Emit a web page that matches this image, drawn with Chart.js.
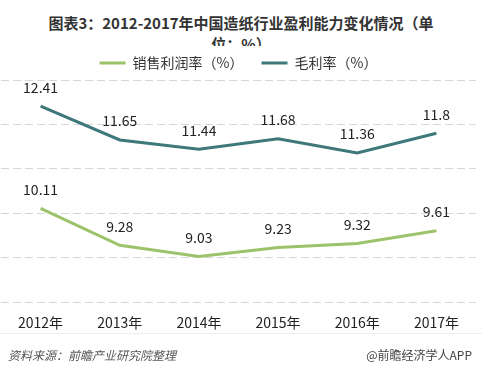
<!DOCTYPE html>
<html>
<head>
<meta charset="utf-8">
<script src="https://cdn.jsdelivr.net/npm/chart.js@4.4.0/dist/chart.umd.min.js"></script>
<style>
  html, body { margin: 0; padding: 0; background: #fff; }
  body { width: 482px; height: 374px; position: relative; overflow: hidden;
         font-family: "Noto Sans CJK SC", "Noto Sans", sans-serif; }
  #title { position: absolute; left: 0; top: 12px; width: 482px; height: 34px; overflow: hidden;
           text-align: center; font-weight: bold; font-size: 15px; line-height: 21px; color: #333; }
  #wrap { position: absolute; left: 0; top: 0; width: 482px; height: 347px; }
  #sep { position: absolute; left: 0; top: 333px; width: 482px; height: 1px; background: #ececec; }
  #src { position: absolute; left: 8px; top: 346px; font-size: 12px; font-style: italic; color: #555; }
  #app { position: absolute; right: 10px; top: 346px; font-size: 12px; color: #444; }
</style>
</head>
<body>
<div id="title">图表3：2012-2017年中国造纸行业盈利能力变化情况（单<br>位：%）</div>
<div id="wrap"><canvas id="myChart"></canvas></div>
<div id="sep"></div>
<div id="src">资料来源：前瞻产业研究院整理</div>
<div id="app">@前瞻经济学人APP</div>
<script>
// 年份（X轴）
const years = ["2012年", "2013年", "2014年", "2015年", "2016年", "2017年"];
// 销售利润率（%）
const salesMargin = [10.11, 9.28, 9.03, 9.23, 9.32, 9.61];
// 毛利率（%）
const grossMargin = [12.41, 11.65, 11.44, 11.68, 11.36, 11.8];
// Y轴范围
const yMin = 8, yMax = 13, yStep = 1;

const green = '#9cc26a';
const teal = '#3e787b';

// 数据标签插件
const valueLabels = {
    id: 'valueLabels',
    afterDatasetsDraw(chart) {
        const ctx = chart.ctx;
        ctx.save();
        ctx.font = '14px "Noto Sans CJK SC", sans-serif';
        ctx.fillStyle = '#222';
        ctx.textAlign = 'center';
        ctx.textBaseline = 'middle';
        chart.data.datasets.forEach((ds, i) => {
            chart.getDatasetMeta(i).data.forEach((pt, j) => {
                ctx.fillText(String(ds.data[j]), pt.x, pt.y - 19);
            });
        });
        ctx.restore();
    }
};

const ctx = document.getElementById('myChart').getContext('2d');
new Chart(ctx, {
    type: 'line',
    data: {
        labels: years,
        datasets: [{
            label: '销售利润率（%）',
            data: salesMargin,
            borderColor: green,
            backgroundColor: green,
            borderWidth: 3,
            pointRadius: 0,
            tension: 0
        }, {
            label: '毛利率（%）',
            data: grossMargin,
            borderColor: teal,
            backgroundColor: teal,
            borderWidth: 3,
            pointRadius: 0,
            tension: 0
        }]
    },
    options: {
        responsive: true,
        maintainAspectRatio: false,
        animation: false,
        layout: { padding: { top: 38, bottom: 4, left: 1, right: 6 } },
        scales: {
            x: {
                offset: true,
                grid: { display: false, drawTicks: false },
                border: { display: false },
                ticks: { padding: 12, color: '#222', font: { size: 14, family: '"Noto Sans CJK SC", sans-serif' } }
            },
            y: {
                min: yMin,
                max: yMax,
                ticks: { display: false, stepSize: yStep },
                grid: { color: '#d6d6d6', drawTicks: false },
                border: { display: false, dash: [8, 4] }
            }
        },
        plugins: {
            legend: {
                position: 'top',
                labels: {
                    boxWidth: 26,
                    boxHeight: 3,
                    padding: 18,
                    color: '#333',
                    font: { size: 14, family: '"Noto Sans CJK SC", sans-serif' },
                    generateLabels(chart) {
                        return Chart.defaults.plugins.legend.labels.generateLabels(chart)
                            .map(l => Object.assign(l, { lineWidth: 0 }));
                    }
                }
            },
            tooltip: { enabled: false }
        }
    },
    plugins: [valueLabels]
});
</script>
</body>
</html>
